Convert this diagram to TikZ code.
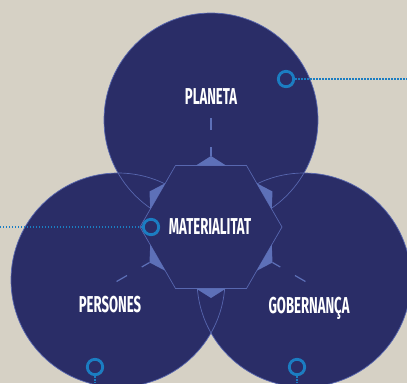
\documentclass[tikz,border=0pt]{standalone}
\usepackage{fontspec}
\newfontfamily\labelfont{Fira Sans}[FakeStretch=0.57]
\usetikzlibrary{calc,shadows}

\definecolor{sand}{HTML}{D6D1C5}
\definecolor{navy}{HTML}{2A2D67}
\definecolor{rim}{HTML}{5867AF}
\definecolor{wedge}{HTML}{5D70B8}
\definecolor{ring}{HTML}{1B7DC2}

\begin{document}
\begin{tikzpicture}[x=1pt,y=-1pt,semithick]
  \tikzstyle{rim line}=[draw=rim,line width=0.7pt]
  \tikzstyle{title}=[text=white,inner sep=0pt,font=\labelfont\bfseries\fontsize{23}{24}\selectfont]
  \tikzstyle{hook}=[circle,draw=ring,fill=navy,line width=2.8pt,minimum size=15.4pt,inner sep=0pt,
                    drop shadow={shadow xshift=1pt,shadow yshift=-1.2pt,opacity=0.45}]
  \tikzstyle{lead}=[draw=ring,line width=1.4pt,dash pattern=on 1.4pt off 1.6pt]

  \fill[sand] (0,0) rectangle (407,383);
  \useasboundingbox (0,0) rectangle (407,383);

  \coordinate (T) at (211,120);
  \coordinate (L) at (118,280);
  \coordinate (R) at (304,280);
  \coordinate (H) at (211,227);

  \foreach \c in {T,L,R} \fill[navy] (\c) circle (107pt);
  \foreach \c in {T,L,R} \draw[rim line] (\c) circle (107pt);

  % hexagon with its wedges and ticks
  \draw[rim line,fill=navy] ($(H)+(0:71pt)$)
    \foreach \a in {60,120,...,300} {-- ($(H)+(\a:71pt)$)} -- cycle;
  \foreach \a in {30,90,...,330}
    \fill[wedge] ($(H)+(\a:61.5pt)+(\a+90:15pt)$) -- ($(H)+(\a:71pt)$)
                 -- ($(H)+(\a:61.5pt)+(\a-90:15pt)$) -- cycle;
  \foreach \a in {90,210,330}
    \draw[wedge,line width=1.2pt,dash pattern=on 9pt off 17pt on 12pt off 60pt]
      ($(H)+(\a:71pt)$) -- ($(H)+(\a:109pt)$);

  \node[title] (P) at (211,97)  {PLANETA};
  \node[title] (M) at (210,227) {MATERIALITAT};
  \node[title] (S) at (110,305) {PERSONES};
  \node[title] (G) at (309,308) {GOBERNANÇA};

  \coordinate (e1) at (407,79);
  \coordinate (e2) at (0,227);
  \coordinate (e3) at (95,383);
  \coordinate (e4) at (297,383);

  \node[hook] (h1) at (286,79)  {};
  \node[hook] (h2) at (151,227) {};
  \node[hook] (h3) at (95,367)  {};
  \node[hook] (h4) at (297,367) {};

  \draw[lead] (h1) -- (e1);
  \draw[lead] (h2) -- (e2);
  \draw[lead] (h3) -- (e3);
  \draw[lead] (h4) -- (e4);
\end{tikzpicture}
\end{document}
